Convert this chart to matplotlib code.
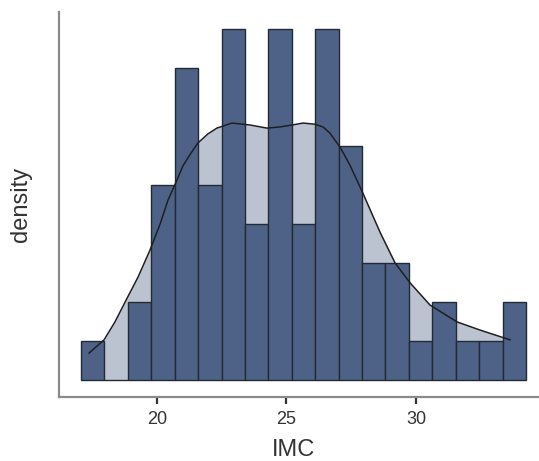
import numpy as np
import matplotlib
matplotlib.use("Agg")
import matplotlib.pyplot as plt

# Histogram of IMC (counts per bin)
bin_start = 17.08
bin_width = 0.903
counts = [1, 0, 2, 5, 8, 5, 9, 4, 9, 4, 9, 6, 3, 3, 1, 2, 1, 1, 2]

# Density curve (x, count-equivalent height)
curve_x = [17.39, 17.97, 18.39, 18.82, 19.28, 19.74, 20.13, 20.44, 20.75, 21.01,
           21.32, 21.59, 21.97, 22.32, 22.90, 23.60, 24.25, 24.75, 25.22, 25.64,
           26.10, 26.41, 26.68, 27.07, 27.45, 27.95, 28.61, 29.19, 29.77, 30.54,
           31.58, 32.47, 33.62]
curve_c = [0.69, 1.03, 1.49, 2.05, 2.64, 3.33, 4.00, 4.62, 5.08, 5.49,
           5.82, 6.08, 6.31, 6.46, 6.59, 6.54, 6.46, 6.49, 6.54, 6.59,
           6.56, 6.49, 6.33, 5.97, 5.51, 4.79, 3.79, 3.00, 2.49, 1.92,
           1.49, 1.28, 1.03]

xticks = [20, 25, 30]

n_total = sum(counts)
scale = 1.0 / (n_total * bin_width)
dens = np.array(counts) * scale
curve_y = np.array(curve_c) * scale
edges = bin_start + bin_width * np.arange(len(counts) + 1)

plt.rcParams['font.family'] = ['Liberation Sans', 'DejaVu Sans']

fig = plt.figure(figsize=(5.39, 4.61), dpi=100)
ax = fig.add_axes([0.1095, 0.1388, 0.8905, 0.835])

bar_color = '#4e6288'
fill_color = '#bcc3d0'

ax.fill_between(curve_x, 0, curve_y, color=fill_color, zorder=1, linewidth=0)
ax.bar(edges[:-1], dens, width=bin_width, align='edge', color=bar_color,
       edgecolor='#222a36', linewidth=1.0, zorder=2)
ax.plot(curve_x, curve_y, color='#1f1f1f', linewidth=1.1, zorder=3,
        solid_joinstyle='round')

x0 = 20 + (59 - 156.7) / 25.94
x1 = 20 + (539 - 156.7) / 25.94
ax.set_xlim(x0, x1)
ax.set_ylim(-17 / 39 * scale, 368 / 39 * scale)

ax.set_xticks(xticks)
ax.set_xticklabels([str(t) for t in xticks])
ax.set_yticks([])
for s in ['top', 'right']:
    ax.spines[s].set_visible(False)
for s in ['left', 'bottom']:
    ax.spines[s].set_color('#8a8a8a')
    ax.spines[s].set_linewidth(1.6)
ax.tick_params(axis='x', length=5, width=1.6, color='#333333',
               labelsize=13, labelcolor='#333333', pad=5)
ax.set_xlabel('IMC', fontsize=17, color='#333333')
ax.set_ylabel('density', fontsize=17, color='#333333')
ax.xaxis.set_label_coords(0.4875, -0.108)
ax.yaxis.set_label_coords(-0.056, 0.5)

fig.savefig('out.png', dpi=100)
